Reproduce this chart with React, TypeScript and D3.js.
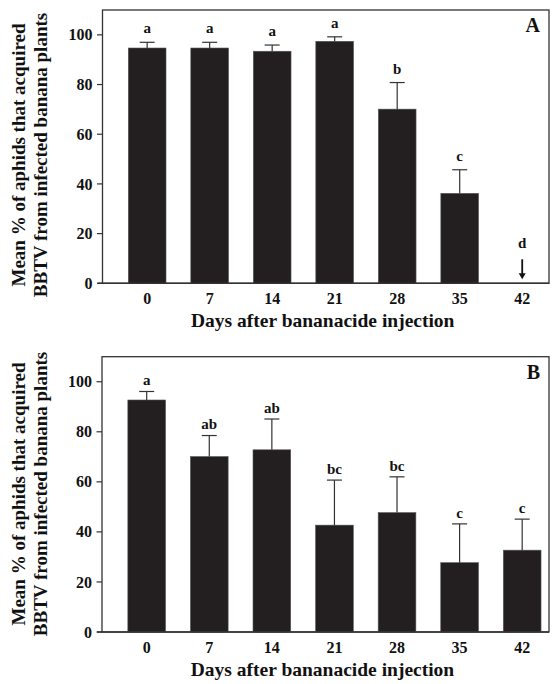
import React from "react";
import * as d3 from "d3";

const days = [0, 7, 14, 21, 28, 35, 42];
const yTicks = [0, 20, 40, 60, 80, 100];

const meanA = [94.7, 94.7, 93.4, 97.4, 70.1, 36.2, 0];
const errTopA = [97.0, 97.0, 95.9, 99.2, 80.8, 45.7, 0];
const lettersA = ["a", "a", "a", "a", "b", "c", "d"];

const meanB = [92.7, 70.1, 72.8, 42.7, 47.7, 27.7, 32.7];
const errTopB = [96.1, 78.5, 85.1, 60.7, 62.0, 43.2, 45.1];
const lettersB = ["a", "ab", "ab", "bc", "bc", "c", "c"];

const FONT = "'Liberation Serif', 'Times New Roman', serif";
const BAR = "#231f20";
const LINE = "#333";

type PanelProps = {
  top: number;
  bottom: number;
  left: number;
  right: number;
  means: number[];
  errs: number[];
  letters: string[];
  label: string;
  letterGap: number;
  titleCenter: number;
};

function Panel(p: PanelProps) {
  const x = d3.scaleLinear().domain([-5, 45]).range([p.left, p.right]);
  const y = d3.scaleLinear().domain([0, 110]).range([p.bottom, p.top]);
  const bw = 37.7;
  const cap = 7.5;
  return (
    <g fontFamily={FONT} fontWeight="bold" fill="#111">
      <rect x={p.left} y={p.top} width={p.right - p.left} height={p.bottom - p.top} fill="none" stroke={LINE} strokeWidth={1.3} />
      {days.map((d, i) =>
        p.means[i] > 0 ? (
          <rect key={"b" + d} x={x(d) - bw / 2} y={y(p.means[i])} width={bw} height={y(0) - y(p.means[i])} fill={BAR} stroke="#555" strokeWidth={0.6} />
        ) : null
      )}
      {days.map((d, i) =>
        p.errs[i] > 0 ? (
          <g key={"e" + d} stroke={LINE} strokeWidth={1.2}>
            <line x1={x(d)} x2={x(d)} y1={y(p.means[i])} y2={y(p.errs[i])} />
            <line x1={x(d) - cap} x2={x(d) + cap} y1={y(p.errs[i])} y2={y(p.errs[i])} />
          </g>
        ) : null
      )}
      {days.map((d, i) =>
        p.means[i] === 0 ? (
          <g key={"a" + d}>
            <line x1={x(d)} x2={x(d)} y1={y(0) - 24} y2={y(0) - 9} stroke="#111" strokeWidth={1.8} />
            <path d={`M${x(d) - 3.5},${y(0) - 10} L${x(d) + 3.5},${y(0) - 10} L${x(d)},${y(0) - 4} Z`} fill="#111" />
          </g>
        ) : null
      )}
      {days.map((d, i) => (
        <text key={"l" + d} x={x(d)} y={p.means[i] > 0 ? y(p.errs[i]) - p.letterGap : y(0) - 35} textAnchor="middle" fontSize={15}>
          {p.letters[i]}
        </text>
      ))}
      <line x1={p.left - 5} x2={p.right} y1={y(0)} y2={y(0)} stroke={LINE} strokeWidth={1.5} />
      {yTicks.map((t) => (
        <g key={"t" + t}>
          <line x1={p.left - 5.5} x2={p.left} y1={y(t)} y2={y(t)} stroke={LINE} strokeWidth={1.2} />
          <text x={p.left - 10} y={y(t)} dy="0.35em" textAnchor="end" fontSize={16}>
            {t}
          </text>
        </g>
      ))}
      {days.map((d) => (
        <text key={"x" + d} x={x(d)} y={p.bottom + 21} textAnchor="middle" fontSize={16}>
          {d}
        </text>
      ))}
      <text x={p.right - 9} y={p.top + 22} textAnchor="end" fontSize={20}>
        {p.label}
      </text>
      <text x={(p.left + p.right) / 2 - 3} y={p.bottom + 44} textAnchor="middle" fontSize={19.5}>
        Days after bananacide injection
      </text>
      <g transform={`translate(0,${p.titleCenter}) rotate(-90)`}>
        <text x={0} y={25} textAnchor="middle" fontSize={19}>
          Mean % of aphids that acquired
        </text>
        <text x={0} y={47} textAnchor="middle" fontSize={19}>
          BBTV from infected banana plants
        </text>
      </g>
    </g>
  );
}

export default function App() {
  return (
    <svg width={552} height={684} style={{ position: "absolute", left: 0, top: 0, background: "#fff" }}>
      <rect width={552} height={684} fill="#fff" />
      <Panel top={10} bottom={283.3} left={102.5} right={549} means={meanA} errs={errTopA} letters={lettersA} label="A" letterGap={9} titleCenter={155} />
      <Panel top={356.7} bottom={632} left={102} right={549} means={meanB} errs={errTopB} letters={lettersB} label="B" letterGap={6.3} titleCenter={494} />
    </svg>
  );
}
